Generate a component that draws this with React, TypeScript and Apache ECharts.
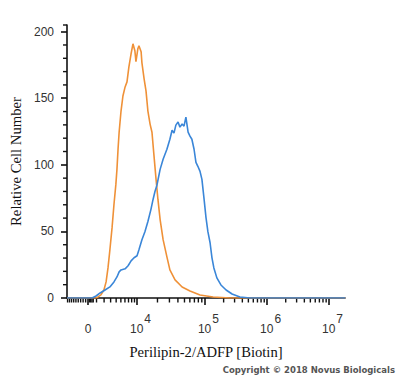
import React, { useEffect, useRef } from 'react';
import * as echarts from 'echarts';

// Histogram data on a 0–1024 display-channel (logicle-like) scale
const orangeChannel = [0, 107, 114, 125, 136, 144, 151, 158, 166, 173, 180, 184, 188, 192, 199, 206, 214, 221, 228, 236, 243, 250, 254, 261, 265, 273, 276, 284, 291, 298, 306, 313, 320, 328, 335, 343, 354, 368, 379, 398, 424, 453, 490, 538, 600, 1024];
const orangeCount = [0, 0, 0.8, 2.3, 6.0, 12.1, 22.6, 36.2, 52.8, 70.2, 85.3, 96.6, 111.7, 124.5, 140.4, 151.7, 158.5, 162.3, 173.6, 183.4, 190.9, 185.7, 177.4, 187.2, 189.4, 184.9, 176.6, 164.5, 155.5, 140.4, 130.6, 124.5, 107.9, 89.1, 74, 58.9, 43.8, 30.9, 21.1, 13.6, 8.3, 5.3, 2.3, 0.8, 0, 0];

const blueChannel = [0, 92, 107, 122, 140, 158, 173, 184, 192, 199, 214, 225, 236, 247, 258, 265, 276, 287, 298, 309, 317, 324, 331, 343, 354, 368, 379, 387, 394, 401, 409, 416, 424, 431, 438, 446, 453, 460, 468, 475, 482, 490, 497, 505, 512, 519, 527, 534, 541, 552, 567, 586, 608, 637, 674, 1024];
const blueCount = [0, 0, 1.5, 3.8, 6.0, 8.3, 12.1, 15.8, 19.6, 21.1, 21.9, 24.2, 27.9, 30.2, 31.7, 36.2, 43.8, 49.8, 57.4, 66.4, 74, 80, 84.5, 96.6, 104.2, 111.7, 119.2, 126, 123.8, 129.8, 132.1, 128.3, 130.6, 129, 135.8, 124.5, 121.5, 119.2, 111.7, 101.9, 98.9, 95.1, 89.1, 74, 60.4, 49.8, 41.5, 30.2, 22.6, 15.1, 9.8, 6.0, 3.0, 0.8, 0, 0];

// Y axis ticks
const yMajorTicks = [0, 50, 100, 150, 200];
const yMinorTicks = [10, 20, 30, 40, 60, 70, 80, 90, 110, 120, 130, 140, 160, 170, 180, 190, 205];

// X axis ticks (fluorescence values)
const xMajorValues = [0, 1e4, 1e5, 1e6, 1e7];
const xMajorBase = ['0', '10', '10', '10', '10'];
const xMajorExp = ['', '4', '5', '6', '7'];
const xMinorValues = [
  -2700, -2400, -2100, -1800, -1500, -1200, -900, -600, -300,
  150, 300, 450, 600,
  1000, 2000, 3000, 4000, 5000, 6000, 7000, 8000, 9000,
  2e4, 3e4, 4e4, 5e4, 6e4, 7e4, 8e4, 9e4,
  2e5, 3e5, 4e5, 5e5, 6e5, 7e5, 8e5, 9e5,
  2e6, 3e6, 4e6, 5e6, 6e6, 7e6, 8e6, 9e6,
];

// display scale: channel of zero and of each decade 10^4..10^8
const ZERO_CH = 78;
const DECADE_CH: Record<number, number> = { 4: 258, 5: 508, 6: 737, 7: 965, 8: 1193 };
const LIN_W = 3000;

function toChannel(v: number): number {
  if (v >= 1e4) {
    const lg = Math.log10(v);
    const d = Math.floor(lg + 1e-9);
    const f = lg - d;
    return DECADE_CH[d] + (DECADE_CH[d + 1] - DECADE_CH[d]) * f;
  }
  const s = Math.sign(v);
  return ZERO_CH + s * (DECADE_CH[4] - ZERO_CH) * Math.asinh(Math.abs(v) / LIN_W) / Math.asinh(1e4 / LIN_W);
}

const X_MIN = 0;
const X_MAX = 1024;
const Y_MAX = 205;

export default function App() {
  const ref = useRef<HTMLDivElement>(null);
  useEffect(() => {
    if (!ref.current) return;
    const chart = echarts.init(ref.current, undefined, { renderer: 'svg' });
    const majorCh = xMajorValues.map(toChannel);
    const minorCh = xMinorValues.map(toChannel).filter((c) => c >= X_MIN && c <= X_MAX);
    const axisColor = '#111111';
    const labelFont = 'Liberation Sans, Arial, sans-serif';
    const serif = 'Liberation Serif, Times New Roman, serif';

    chart.setOption({
      animation: false,
      backgroundColor: '#ffffff',
      grid: { left: 67, right: 55, top: 25, bottom: 80 },
      xAxis: {
        type: 'value',
        min: X_MIN,
        max: X_MAX,
        position: 'bottom',
        axisLine: { show: true, onZero: false, lineStyle: { color: axisColor, width: 1.6 } },
        axisTick: { show: true, customValues: majorCh, length: 7, lineStyle: { color: axisColor, width: 1.6 } },
        axisLabel: {
          show: true,
          customValues: majorCh,
          margin: 14,
          formatter: (val: number) => {
            let idx = 0;
            let best = Infinity;
            majorCh.forEach((c, i) => {
              const d = Math.abs(c - val);
              if (d < best) { best = d; idx = i; }
            });
            return xMajorExp[idx]
              ? `{bl|${xMajorBase[idx]}}{s|${xMajorExp[idx]}}`
              : `{b|${xMajorBase[idx]}}`;
          },
          rich: {
            b: { fontSize: 12, fontFamily: labelFont, color: '#333', lineHeight: 34 },
            bl: { fontSize: 12, fontFamily: labelFont, color: '#333', lineHeight: 34, padding: [0, 0, 0, 7] },
            s: { fontSize: 12, fontFamily: labelFont, color: '#333', padding: [0, 0, 20, 1] },
          },
        },
        splitLine: { show: false },
        name: 'Perilipin-2/ADFP [Biotin]',
        nameLocation: 'middle',
        nameGap: 46,
        nameTextStyle: { fontFamily: serif, fontSize: 14.6, color: '#111' },
      },
      yAxis: {
        type: 'value',
        min: 0,
        max: Y_MAX,
        position: 'left',
        axisLine: { show: true, onZero: false, lineStyle: { color: axisColor, width: 1.6 } },
        axisTick: { show: true, customValues: yMajorTicks, length: 6, lineStyle: { color: axisColor, width: 1.6 } },
        axisLabel: {
          show: true,
          customValues: yMajorTicks,
          margin: 13,
          fontSize: 12,
          fontFamily: labelFont,
          color: '#333',
        },
        splitLine: { show: false },
        name: 'Relative Cell Number',
        nameLocation: 'middle',
        nameRotate: 90,
        nameGap: 44,
        nameTextStyle: { fontFamily: serif, fontSize: 14.7, color: '#111' },
      },
      series: [
        {
          type: 'custom',
          name: 'xMinorTicks',
          silent: true,
          clip: false,
          data: minorCh.map((c) => [c, 0]),
          renderItem: (params: any, api: any) => {
            const p = api.coord([api.value(0), 0]);
            return {
              type: 'line',
              shape: { x1: p[0], y1: p[1], x2: p[0], y2: p[1] + 4.5 },
              style: { stroke: axisColor, lineWidth: 1.4 },
            };
          },
          z: 1,
        },
        {
          type: 'custom',
          name: 'yMinorTicks',
          silent: true,
          clip: false,
          data: yMinorTicks.map((v) => [X_MIN, v]),
          renderItem: (params: any, api: any) => {
            const p = api.coord([api.value(0), api.value(1)]);
            return {
              type: 'line',
              shape: { x1: p[0] - 4, y1: p[1], x2: p[0], y2: p[1] },
              style: { stroke: axisColor, lineWidth: 1.4 },
            };
          },
          z: 1,
        },
        {
          type: 'line',
          name: 'Isotype',
          data: orangeChannel.map((c, i) => [c, orangeCount[i]]),
          showSymbol: false,
          symbol: 'none',
          lineStyle: { color: '#EF9138', width: 1.6 },
          z: 2,
        },
        {
          type: 'line',
          name: 'Perilipin-2',
          data: blueChannel.map((c, i) => [c, blueCount[i]]),
          showSymbol: false,
          symbol: 'none',
          lineStyle: { color: '#3A86D8', width: 1.6 },
          z: 3,
        },
      ],
      graphic: [
        {
          type: 'text',
          right: 5,
          top: 365,
          style: {
            text: 'Copyright © 2018 Novus Biologicals',
            font: 'bold 8.5px "DejaVu Sans", sans-serif',
            fill: '#555',
          },
        },
      ],
    });
    return () => chart.dispose();
  }, []);
  return <div ref={ref} style={{ position: 'fixed', left: 0, top: 0, width: 400, height: 378 }} />;
}
